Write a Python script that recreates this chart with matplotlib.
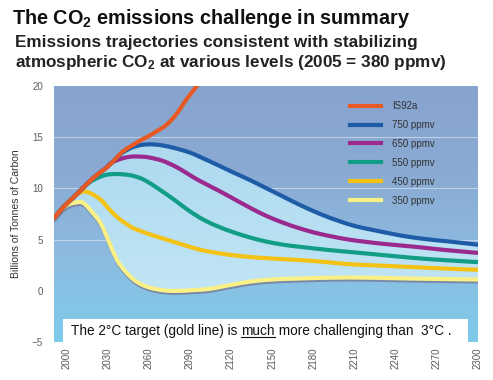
import numpy as np
import matplotlib
matplotlib.use('Agg')
import matplotlib.pyplot as plt
from matplotlib import patheffects as pe
from matplotlib.colors import LinearSegmentedColormap
from matplotlib.lines import Line2D
from matplotlib.patches import Rectangle, PathPatch
from matplotlib.path import Path

plt.rcParams['font.family'] = ['Liberation Sans', 'DejaVu Sans']
plt.rcParams['mathtext.fontset'] = 'custom'
plt.rcParams['mathtext.rm'] = 'Liberation Sans:bold'
plt.rcParams['mathtext.bf'] = 'Liberation Sans:bold'
plt.rcParams['mathtext.it'] = 'Liberation Sans:bold'

# ---------------- data ----------------
years_is92a = [1991, 1998, 2005, 2011, 2017, 2024, 2030, 2036, 2041, 2048, 2054, 2060, 2066, 2071, 2076, 2081, 2086, 2091, 2098]
vals_is92a = [7.1, 8.2, 9.1, 9.9, 10.7, 11.5, 12.1, 12.9, 13.6, 14.2, 14.7, 15.1, 15.6, 16.0, 16.6, 17.4, 18.4, 19.3, 20.5]

years_750 = [1991, 1998, 2005, 2011, 2017, 2024, 2030, 2036, 2041, 2048, 2055, 2062, 2070, 2080, 2090, 2097, 2110, 2121,
             2134, 2146, 2158, 2170, 2185, 2199, 2211, 2223, 2236, 2248, 2265, 2280, 2300]
vals_750 = [7.1, 8.2, 9.1, 9.9, 10.7, 11.5, 12.1, 12.9, 13.5, 14.0, 14.25, 14.3, 14.2, 13.9, 13.5, 13.1, 12.3, 11.6,
            10.8, 10.0, 9.2, 8.4, 7.5, 6.8, 6.3, 5.95, 5.6, 5.3, 5.0, 4.8, 4.5]

years_650 = [1991, 1998, 2005, 2011, 2017, 2024, 2028, 2033, 2040, 2047, 2055, 2061, 2070, 2080, 2090, 2097, 2110, 2121,
             2134, 2146, 2158, 2170, 2185, 2206, 2230, 2254, 2275, 2300]
vals_650 = [7.1, 8.2, 9.1, 9.9, 10.7, 11.5, 11.9, 12.5, 12.9, 13.1, 13.1, 13.0, 12.7, 12.1, 11.3, 10.75, 9.85, 9.05,
            8.1, 7.3, 6.65, 6.1, 5.55, 5.0, 4.6, 4.3, 4.0, 3.7]

years_550 = [1991, 1998, 2005, 2011, 2017, 2024, 2030, 2037, 2046, 2054, 2061, 2070, 2078, 2085, 2093, 2102, 2112, 2121,
             2134, 2146, 2158, 2170, 2190, 2206, 2230, 2254, 2275, 2300]
vals_550 = [7.1, 8.2, 9.1, 9.9, 10.6, 11.1, 11.35, 11.4, 11.3, 11.0, 10.5, 9.7, 8.95, 8.25, 7.5, 6.8, 6.2, 5.75,
            5.2, 4.8, 4.5, 4.3, 4.0, 3.8, 3.5, 3.2, 3.0, 2.8]

years_450 = [1991, 1998, 2005, 2009, 2013, 2018, 2025, 2031, 2037, 2043, 2049, 2055, 2061, 2073, 2085, 2095, 2105, 2120,
             2134, 2150, 2170, 2190, 2206, 2230, 2255, 2280, 2300]
vals_450 = [7.1, 8.2, 9.1, 9.5, 9.7, 9.5, 8.9, 8.0, 7.2, 6.6, 6.1, 5.8, 5.5, 5.0, 4.5, 4.1, 3.8, 3.5,
            3.3, 3.15, 3.0, 2.8, 2.6, 2.45, 2.3, 2.15, 2.05]

years_350 = [1991, 1996, 2001, 2006, 2012, 2018, 2025, 2031, 2037, 2043, 2049, 2055, 2061, 2068, 2075, 2083, 2090, 2097,
             2105, 2113, 2121, 2134, 2150, 2170, 2206, 2250, 2300]
vals_350 = [7.1, 7.9, 8.4, 8.6, 8.6, 7.8, 6.6, 4.8, 3.0, 1.9, 1.1, 0.6, 0.3, 0.1, 0.0, 0.0, 0.05, 0.1,
            0.2, 0.4, 0.6, 0.9, 1.1, 1.2, 1.3, 1.2, 1.1]

labels = ['IS92a', '750 ppmv', '650 ppmv', '550 ppmv', '450 ppmv', '350 ppmv']
colors = ['#E85A24', '#1F5CA8', '#9A2A8E', '#129E86', '#F3C214', '#FAF186']

x_ticks = [2000, 2030, 2060, 2090, 2120, 2150, 2180, 2210, 2240, 2270, 2300]
y_ticks = [-5, 0, 5, 10, 15, 20]


def smooth_path(xv, yv):
    """Catmull-Rom curve through the read points, as cubic Bezier segments."""
    pts = np.column_stack([xv, yv]).astype(float)
    n = len(pts)
    verts = [pts[0]]
    codes = [Path.MOVETO]
    for i in range(n - 1):
        p0 = pts[i - 1] if i > 0 else pts[i]
        p1, p2 = pts[i], pts[i + 1]
        p3 = pts[i + 2] if i + 2 < n else pts[i + 1]
        verts += [p1 + (p2 - p0) / 6.0, p2 - (p3 - p1) / 6.0, p2]
        codes += [Path.CURVE4] * 3
    return np.array(verts), codes


# ---------------- figure ----------------
W, H = 493, 380
fig = plt.figure(figsize=(W / 100, H / 100), dpi=100)
fig.patch.set_facecolor('white')
ax = fig.add_axes([54 / W, 38 / H, 424 / W, 256 / H])
x0, x1, y0, y1 = 1991, 2300, -5, 20
ax.set_xlim(x0, x1)
ax.set_ylim(y0, y1)

grad = np.linspace(0, 1, 256).reshape(-1, 1)
bg_cmap = LinearSegmentedColormap.from_list('bg', ['#7ECBEA', '#8DBCE0', '#8AAAD3', '#87A4CE'])
ax.imshow(grad, extent=[x0, x1, y0, y1], origin='lower', aspect='auto', cmap=bg_cmap, zorder=0)

for gy in [5, 10, 15]:
    ax.axhline(gy, color='white', lw=0.8, alpha=0.45, zorder=0.5)

# light envelope between the 750 and 350 trajectories
vu, cu = smooth_path(years_750, vals_750)
vl, cl = smooth_path(years_350, vals_350)
env_verts = np.vstack([vu, vl[::-1], vu[:1]])
env_codes = cu + [Path.LINETO] + [Path.CURVE4] * (len(vl) - 1) + [Path.CLOSEPOLY]
env_path = Path(env_verts, env_codes)
light_cmap = LinearSegmentedColormap.from_list('lt', ['#C9E9F6', '#B6DFF2', '#A6D3EC'])
im2 = ax.imshow(grad, extent=[x0, x1, y0, y1], origin='lower', aspect='auto', cmap=light_cmap, zorder=1)
im2.set_clip_path(env_path, transform=ax.transData)

series = [(years_is92a, vals_is92a), (years_750, vals_750), (years_650, vals_650),
          (years_550, vals_550), (years_450, vals_450), (years_350, vals_350)]
for i in [5, 4, 3, 2, 1, 0]:
    yx, yv = series[i]
    v, c = smooth_path(yx, yv)
    patch = PathPatch(Path(v, c), facecolor='none', edgecolor=colors[i], lw=3.0,
                      capstyle='round', joinstyle='round', zorder=3 + (5 - i), transform=ax.transData)
    patch.set_clip_on(True)
    if i == 5:
        patch.set_path_effects([pe.SimpleLineShadow(offset=(0.4, -1.4), shadow_color='#767C98', alpha=0.8),
                                pe.Normal()])
    ax.add_patch(patch)

ax.set_xticks(x_ticks)
ax.set_xticklabels([str(t) for t in x_ticks], rotation=90)
ax.set_yticks(y_ticks)
ax.tick_params(length=0, colors='#5A5A5A', labelsize=7)
ax.tick_params(axis='x', pad=4)
ax.tick_params(axis='y', pad=8)
for s in ax.spines.values():
    s.set_visible(False)
ax.set_ylabel('Billions of Tonnes of Carbon', fontsize=7.5, color='#333333', labelpad=8)

handles = [Line2D([0], [0], color=c, lw=3.0) for c in colors]
leg = ax.legend(handles, labels, loc='upper left', bbox_to_anchor=(350 / W, 1 - 101 / H),
                bbox_transform=fig.transFigure, frameon=False, fontsize=7, borderpad=0, borderaxespad=0,
                handlelength=3.2, handletextpad=1.1, labelspacing=0.92)
for t in leg.get_texts():
    t.set_color('#333333')

# annotation box
ax.add_patch(Rectangle((9 / 424, 0), 405 / 424, 23 / 256, transform=ax.transAxes,
                       facecolor='white', edgecolor='none', zorder=10))

# titles
fig.text(12 / W, 1 - 18 / H, 'The CO$_2$ emissions challenge in summary', fontsize=14.3,
         fontweight='bold', va='center', ha='left', color='#111111')
fig.text(15 / W, 1 - 43 / H, 'Emissions trajectories consistent with stabilizing', fontsize=12.3,
         fontweight='bold', va='center', ha='left', color='#222222')
fig.text(15 / W, 1 - 63 / H, 'atmospheric CO$_2$ at various levels (2005 = 380 ppmv)', fontsize=12.3,
         fontweight='bold', va='center', ha='left', color='#222222')

# annotation text with underlined word
ty = 1 - 331 / H
fs = 9.8
t1 = fig.text(71 / W, ty, 'The 2°C target (gold line) is ', fontsize=fs, va='center', ha='left', color='#111111', zorder=11)
fig.canvas.draw()
r = fig.canvas.get_renderer()
bb1 = t1.get_window_extent(r)
t2 = fig.text(bb1.x1 / W, ty, 'much', fontsize=fs, va='center', ha='left', color='#111111', zorder=11)
bb2 = t2.get_window_extent(r)
t3 = fig.text(bb2.x1 / W, ty, ' more challenging than  3°C .', fontsize=fs, va='center', ha='left', color='#111111', zorder=11)
uy = (bb2.y0 + 1.0) / H
fig.add_artist(Line2D([bb2.x0 / W, bb2.x1 / W], [uy, uy], color='#111111', lw=0.8, transform=fig.transFigure, zorder=12))

fig.savefig('out.png', dpi=100)
